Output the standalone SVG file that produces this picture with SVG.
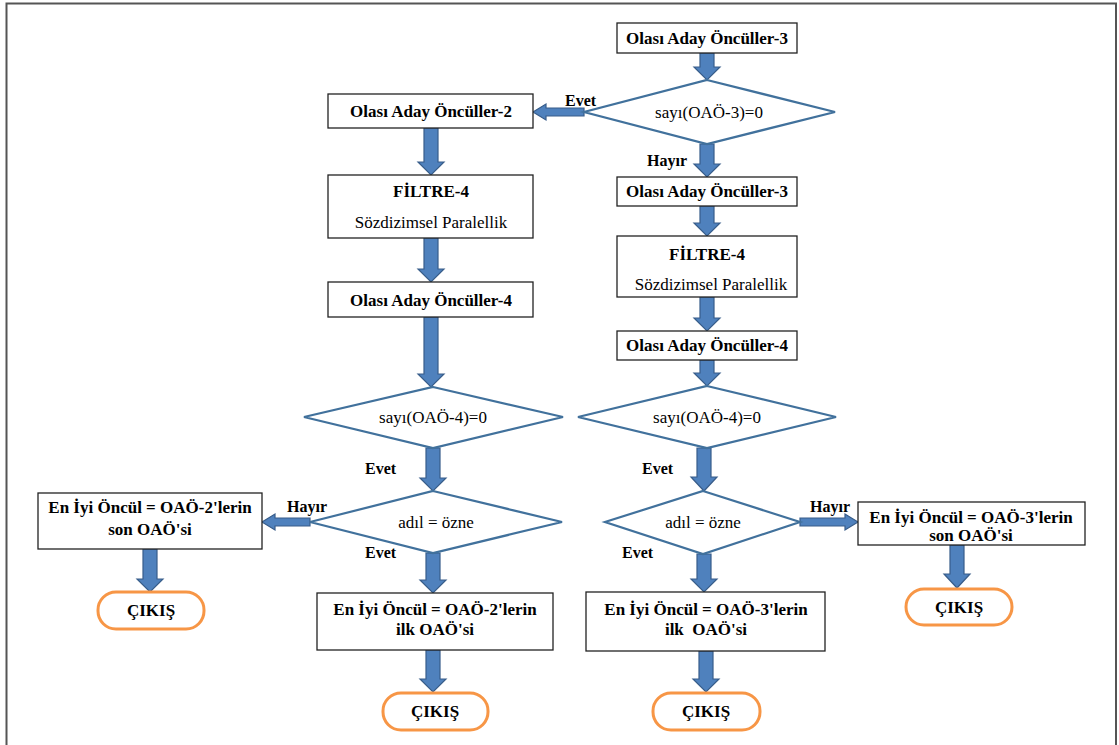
<svg xmlns="http://www.w3.org/2000/svg" width="1119" height="745" viewBox="0 0 1119 745" font-family="Liberation Serif, serif">
  <style>
    .box { fill: #ffffff; stroke: #222222; stroke-width: 1.3; }
    .dia { fill: #ffffff; stroke: #41719c; stroke-width: 2.2; }
    .end { fill: #ffffff; stroke: #f79646; stroke-width: 3; }
    .arr { fill: #4f81bd; stroke: #385d8a; stroke-width: 1.2; }
    .b { font-weight: bold; font-size: 17px; text-anchor: middle; }
    .n { font-size: 17px; text-anchor: middle; }
    .lbl { font-weight: bold; font-size: 16px; }
  </style>

  <!-- frame -->
  <path d="M6.5 745 V3.5 H1116 V745" fill="none" stroke="#555555" stroke-width="2"/>

  <!-- connectors: block arrows -->
  <g id="connectors">
    <!-- right column -->
    <path class="arr" d="M700 53 H714 V67 H720 L707 80 L694 67 H700 Z"/>
    <path class="arr" d="M584 108 V116 H546 V120 L533 112 L546 104 V108 Z"/>
    <path class="arr" d="M700 144 H714 V164 H720 L707 177 L694 164 H700 Z"/>
    <path class="arr" d="M700 206 H714 V223 H720 L707 236 L694 223 H700 Z"/>
    <path class="arr" d="M700 297 H714 V318 H720 L707 331 L694 318 H700 Z"/>
    <path class="arr" d="M700 360 H714 V373 H720 L707 386 L694 373 H700 Z"/>
    <path class="arr" d="M697 448 H711 V477 H717 L704 491 L691 477 H697 Z"/>
    <path class="arr" d="M800 518 H845 V514 L858 522 L845 530 V526 H800 Z"/>
    <path class="arr" d="M950 545 H964 V574 H970 L957 588 L944 574 H950 Z"/>
    <path class="arr" d="M697 554 H711 V579 H717 L704 592 L691 579 H697 Z"/>
    <path class="arr" d="M699 651 H713 V679 H719 L706 692 L693 679 H699 Z"/>
    <!-- left column -->
    <path class="arr" d="M424 128 H438 V162 H444 L431 175 L418 162 H424 Z"/>
    <path class="arr" d="M424 238 H438 V269 H444 L431 282 L418 269 H424 Z"/>
    <path class="arr" d="M424 317 H438 V374 H444 L431 387 L418 374 H424 Z"/>
    <path class="arr" d="M426 448 H440 V478 H446 L433 491 L420 478 H426 Z"/>
    <path class="arr" d="M310 518 V526 H275 V530 L262 522 L275 514 V518 Z"/>
    <path class="arr" d="M143 549 H157 V579 H163 L150 592 L137 579 H143 Z"/>
    <path class="arr" d="M426 553 H440 V580 H446 L433 593 L420 580 H426 Z"/>
    <path class="arr" d="M426 650 H440 V679 H446 L433 692 L420 679 H426 Z"/>
  </g>

  <!-- connector labels -->
  <g id="labels">
    <text class="lbl" x="565" y="106">Evet</text>
    <text class="lbl" x="647" y="166">Hayır</text>
    <text class="lbl" x="365" y="474">Evet</text>
    <text class="lbl" x="365" y="558">Evet</text>
    <text class="lbl" x="287" y="512">Hayır</text>
    <text class="lbl" x="642" y="474">Evet</text>
    <text class="lbl" x="622" y="558">Evet</text>
    <text class="lbl" x="810" y="512">Hayır</text>
  </g>

  <!-- right column nodes -->
  <g id="r-oao3-a">
    <rect class="box" x="617" y="23" width="180" height="30"/>
    <text class="b" x="707" y="44">Olası Aday Öncüller-3</text>
  </g>
  <g id="r-dec-oao3">
    <polygon class="dia" points="707,80 835,112 707,144 584,112"/>
    <text class="n" x="709" y="118">sayı(OAÖ-3)=0</text>
  </g>
  <g id="r-oao3-b">
    <rect class="box" x="617" y="177" width="180" height="29"/>
    <text class="b" x="707" y="197">Olası Aday Öncüller-3</text>
  </g>
  <g id="r-filtre">
    <rect class="box" x="617" y="236" width="180" height="61"/>
    <text class="b" x="707" y="260">FİLTRE-4</text>
    <text class="n" x="711" y="290">Sözdizimsel Paralellik</text>
  </g>
  <g id="r-oao4">
    <rect class="box" x="617" y="331" width="180" height="29"/>
    <text class="b" x="707" y="351">Olası Aday Öncüller-4</text>
  </g>
  <g id="r-dec-oao4">
    <polygon class="dia" points="707,386 836,417 707,448 578,417"/>
    <text class="n" x="707" y="423">sayı(OAÖ-4)=0</text>
  </g>
  <g id="r-dec-adil">
    <polygon class="dia" points="703,491 800,522 703,554 605,522"/>
    <text class="n" x="703" y="528">adıl = özne</text>
  </g>
  <g id="r-son">
    <rect class="box" x="858" y="502" width="227" height="43"/>
    <text class="b" x="971" y="523">En İyi Öncül = OAÖ-3'lerin</text>
    <text class="b" x="971" y="541">son OAÖ'si</text>
  </g>
  <g id="r-son-exit">
    <rect class="end" x="906" y="589" width="106" height="36" rx="18"/>
    <text class="b" x="959" y="613">ÇIKIŞ</text>
  </g>
  <g id="r-ilk">
    <rect class="box" x="586" y="592" width="239" height="59"/>
    <text class="b" x="706" y="615">En İyi Öncül = OAÖ-3'lerin</text>
    <text class="b" x="706" y="635" style="white-space:pre">ilk  OAÖ'si</text>
  </g>
  <g id="r-ilk-exit">
    <rect class="end" x="653" y="693" width="107" height="37" rx="18"/>
    <text class="b" x="706" y="717">ÇIKIŞ</text>
  </g>

  <!-- left column nodes -->
  <g id="l-oao2">
    <rect class="box" x="328" y="94" width="205" height="34"/>
    <text class="b" x="431" y="117">Olası Aday Öncüller-2</text>
  </g>
  <g id="l-filtre">
    <rect class="box" x="328" y="175" width="205" height="63"/>
    <text class="b" x="431" y="197">FİLTRE-4</text>
    <text class="n" x="431" y="228">Sözdizimsel Paralellik</text>
  </g>
  <g id="l-oao4">
    <rect class="box" x="328" y="282" width="205" height="35"/>
    <text class="b" x="431" y="306">Olası Aday Öncüller-4</text>
  </g>
  <g id="l-dec-oao4">
    <polygon class="dia" points="433,387 563,417 433,448 304,417"/>
    <text class="n" x="433" y="423">sayı(OAÖ-4)=0</text>
  </g>
  <g id="l-dec-adil">
    <polygon class="dia" points="433,491 562,522 433,553 310,522"/>
    <text class="n" x="436" y="528">adıl = özne</text>
  </g>
  <g id="l-son">
    <rect class="box" x="38" y="493" width="224" height="56"/>
    <text class="b" x="150" y="513">En İyi Öncül = OAÖ-2'lerin</text>
    <text class="b" x="150" y="535">son OAÖ'si</text>
  </g>
  <g id="l-son-exit">
    <rect class="end" x="98" y="592" width="106" height="37" rx="18"/>
    <text class="b" x="151" y="616">ÇIKIŞ</text>
  </g>
  <g id="l-ilk">
    <rect class="box" x="317" y="593" width="236" height="57"/>
    <text class="b" x="435" y="615">En İyi Öncül = OAÖ-2'lerin</text>
    <text class="b" x="435" y="635">ilk OAÖ'si</text>
  </g>
  <g id="l-ilk-exit">
    <rect class="end" x="383" y="693" width="105" height="37" rx="18"/>
    <text class="b" x="435" y="717">ÇIKIŞ</text>
  </g>
</svg>
